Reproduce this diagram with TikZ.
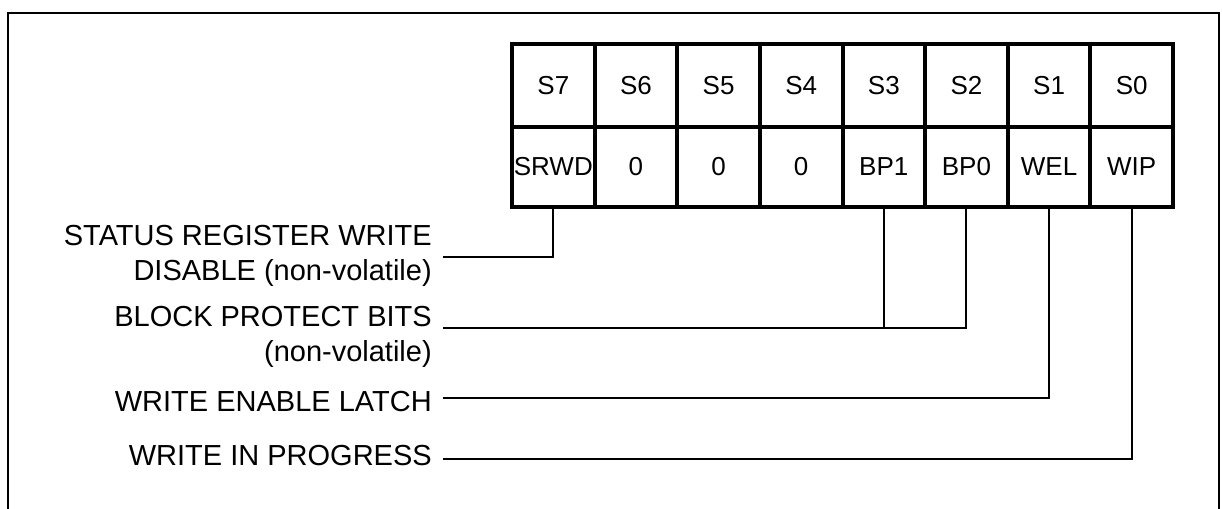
\documentclass[tikz,border=0pt]{standalone}
\usepackage{fontspec}
\setmainfont{Liberation Sans}
\usepackage{tikz}

\begin{document}
\begin{tikzpicture}[x=0.75pt, y=-0.75pt,
    cell/.style={draw, line width=3pt, inner sep=0pt, outer sep=0pt,
      minimum width=61.97pt, font=\fontsize{19.5}{23}\selectfont},
    toprow/.style={cell, minimum height=62.25pt},
    botrow/.style={cell, minimum height=60pt},
    lbl/.style={inner sep=0pt, align=right, anchor=north east,
      font=\fontsize{21.75}{26.25}\selectfont},
    wire/.style={line width=1.5pt},
    frame/.style={line width=1.5pt}]

      \useasboundingbox (0, 0) rectangle (1222, 508);

      \draw [frame] (8, 510) |- (1219, 13) -- (1219, 510);

      % register bits
      \foreach \bitname/\field [count=\i from 0, evaluate=\i as \b using int(7-\i)] in
          {S7/SRWD, S6/0, S5/0, S4/0, S3/BP1, S2/BP0, S1/WEL, S0/WIP} {
        \node [toprow] (s\b) at ({512 + 82.625*(\i + 0.5)}, 85.5) {\bitname};
        \node [botrow] (f\b) at ({512 + 82.625*(\i + 0.5)}, 167)  {\field};
      }

      \node [lbl] (srwdlbl) at (432, 225) {STATUS REGISTER WRITE\\DISABLE (non-volatile)};
      \node [lbl] (bplbl)   at (432, 306) {BLOCK PROTECT BITS\\(non-volatile)};
      \node [lbl] (wellbl)  at (432, 391) {WRITE ENABLE LATCH};
      \node [lbl] (wiplbl)  at (432, 445) {WRITE IN PROGRESS};

      \coordinate (srwdend) at (443, 257);
      \coordinate (bpend)   at (443, 328);
      \coordinate (welend)  at (443, 398);
      \coordinate (wipend)  at (443, 459);

      \draw [wire] (f7.south) |- (srwdend);
      \draw [wire] (f2.south) |- (bpend);
      \draw [wire] (f3.south) -- (f3.south |- bpend);
      \draw [wire] (f1.south) |- (welend);
      \draw [wire] (f0.south) |- (wipend);
    \end{tikzpicture}
\end{document}
